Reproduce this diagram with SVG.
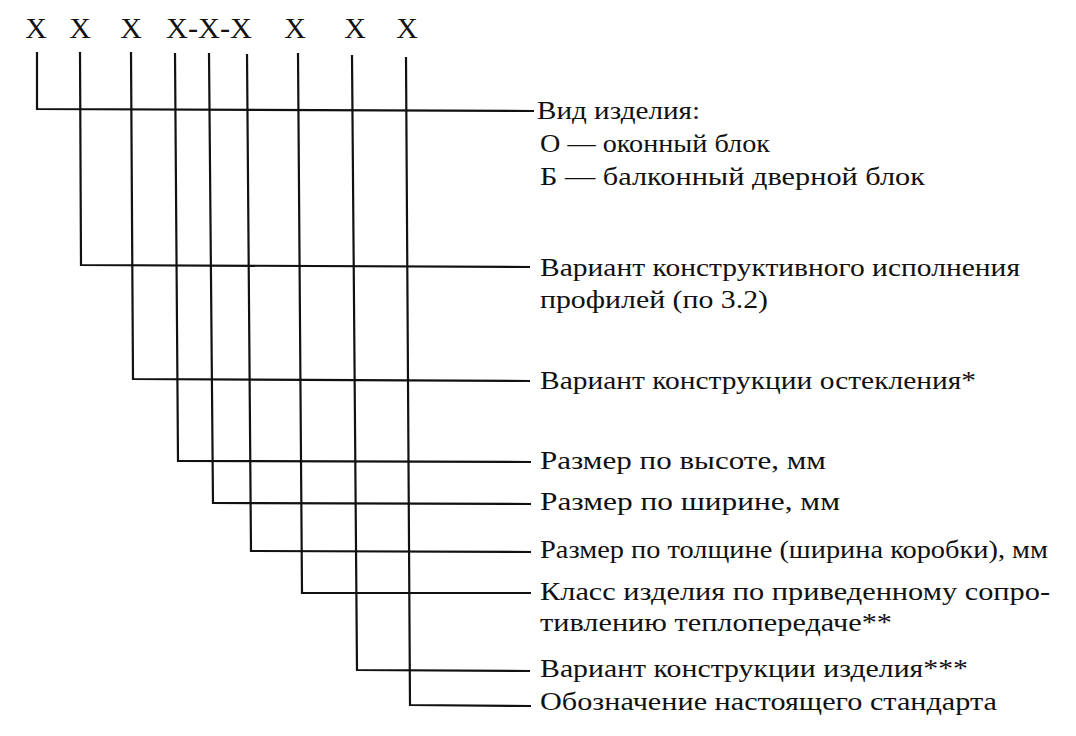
<svg xmlns="http://www.w3.org/2000/svg" width="1076" height="736" viewBox="0 0 1076 736">
<style>
.bg{fill:#ffffff}
.code{font-family:"Liberation Serif","Times New Roman",serif;font-size:30px;fill:#111}
.t{font-family:"Liberation Serif","Times New Roman",serif;font-size:25px;fill:#111}
.c{fill:none;stroke:#111;stroke-width:2.2;stroke-linejoin:miter}
</style>
<rect class="bg" x="0" y="0" width="1076" height="736"/>
<g id="code">
<text class="code" x="36" y="38" text-anchor="middle">X</text>
<text class="code" x="80" y="38" text-anchor="middle">X</text>
<text class="code" x="131" y="38" text-anchor="middle">X</text>
<text class="code" x="166" y="38" textLength="86" lengthAdjust="spacingAndGlyphs">X-X-X</text>
<text class="code" x="295" y="38" text-anchor="middle">X</text>
<text class="code" x="355" y="38" text-anchor="middle">X</text>
<text class="code" x="407" y="38" text-anchor="middle">X</text>
</g>
<g id="connectors">
<polyline class="c" points="37,52 37,109 534,111"/>
<polyline class="c" points="80,52 81,265 530,267"/>
<polyline class="c" points="131,52 133,379 530,381"/>
<polyline class="c" points="175,53 178,461 531,462"/>
<polyline class="c" points="209,53 213,503 531,504"/>
<polyline class="c" points="247,54 251,551 531,552"/>
<polyline class="c" points="298,53 302,593 531,593"/>
<polyline class="c" points="352,55 357,670 530,671"/>
<polyline class="c" points="406,57 410,705 531,706"/>
</g>
<g id="n1">
<text class="t" x="537" y="119" textLength="163" lengthAdjust="spacingAndGlyphs">Вид изделия:</text>
<text class="t" x="540" y="152" textLength="230" lengthAdjust="spacingAndGlyphs">О — оконный блок</text>
<text class="t" x="540" y="185" textLength="385" lengthAdjust="spacingAndGlyphs">Б — балконный дверной блок</text>
</g>
<g id="n2">
<text class="t" x="540" y="276" textLength="480" lengthAdjust="spacingAndGlyphs">Вариант конструктивного исполнения</text>
<text class="t" x="540" y="308" textLength="228" lengthAdjust="spacingAndGlyphs">профилей (по 3.2)</text>
</g>
<g id="n3">
<text class="t" x="540" y="389" textLength="436" lengthAdjust="spacingAndGlyphs">Вариант конструкции остекления*</text>
</g>
<g id="n4">
<text class="t" x="540" y="469" textLength="286" lengthAdjust="spacingAndGlyphs">Размер по высоте, мм</text>
</g>
<g id="n5">
<text class="t" x="540" y="510" textLength="300" lengthAdjust="spacingAndGlyphs">Размер по ширине, мм</text>
</g>
<g id="n6">
<text class="t" x="540" y="558" textLength="508" lengthAdjust="spacingAndGlyphs">Размер по толщине (ширина коробки), мм</text>
</g>
<g id="n7">
<text class="t" x="540" y="600" textLength="510" lengthAdjust="spacingAndGlyphs">Класс изделия по приведенному сопро-</text>
<text class="t" x="540" y="631" textLength="352" lengthAdjust="spacingAndGlyphs">тивлению теплопередаче**</text>
</g>
<g id="n8">
<text class="t" x="540" y="677" textLength="428" lengthAdjust="spacingAndGlyphs">Вариант конструкции изделия***</text>
</g>
<g id="n9">
<text class="t" x="540" y="710" textLength="457" lengthAdjust="spacingAndGlyphs">Обозначение настоящего стандарта</text>
</g>
</svg>
